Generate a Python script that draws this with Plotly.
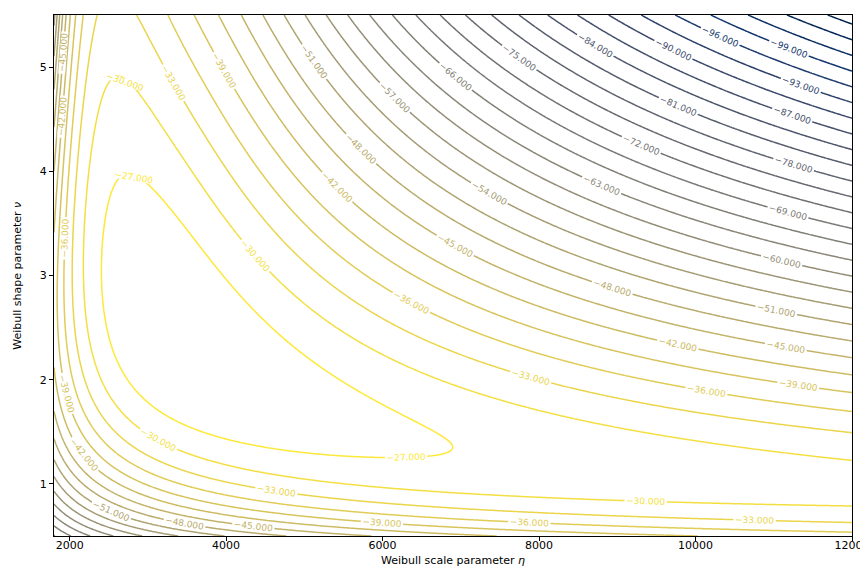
import numpy as np
import plotly.graph_objects as go

# Inspection data
survived_times = [880, 2260]            # units still working when inspected (right-censored)
survived_counts = [74, 11]
failed_by_times = [185, 1080, 2465, 4755]   # units found failed at inspection (left-censored)
failed_by_counts = [1, 2, 4, 5]

# Axes and contour levels
eta_range = [1800, 12000]
nu_range = [0.5, 5.5]
x_tick_vals = [2000, 4000, 6000, 8000, 10000, 12000]
x_tick_text = ['2000', '4000', '6000', '8000', '10000', '12000']
y_tick_vals = [1, 2, 3, 4, 5]
level_start, level_end, level_step = -111, -27, 3

eta = np.linspace(eta_range[0], eta_range[1], 400)
nu = np.linspace(nu_range[0], nu_range[1], 400)
E, N = np.meshgrid(eta, nu)

# Weibull log-likelihood of the inspection data
loglik = np.zeros_like(E)
for t, c in zip(survived_times, survived_counts):
    loglik -= c * (t / E) ** N
for t, c in zip(failed_by_times, failed_by_counts):
    loglik += c * np.log(-np.expm1(-(t / E) ** N))

fig = go.Figure()
fig.add_trace(go.Contour(
    x=eta, y=nu, z=loglik,
    contours=dict(start=level_start, end=level_end, size=level_step, coloring='lines',
                  showlabels=True, labelformat='.3f',
                  labelfont=dict(size=9, family='DejaVu Sans')),
    colorscale='Cividis', zmin=-108, zmax=-27, showscale=False,
    line=dict(width=1.5), hoverinfo='skip'))

fig.add_annotation(text='Weibull scale parameter <i>η</i>', x=0.5, y=-0.047, xref='paper', yref='paper',
                   xanchor='center', yanchor='middle', showarrow=False, borderpad=0, font=dict(size=11))
fig.add_annotation(text='Weibull shape parameter <i>ν</i>', x=-0.046, y=0.5, xref='paper', yref='paper',
                   xanchor='center', yanchor='middle', textangle=-90, showarrow=False, borderpad=0, font=dict(size=11))

fig.update_layout(width=868, height=567, margin=dict(l=46, r=19, t=6, b=39),
                  plot_bgcolor='white', paper_bgcolor='white',
                  font=dict(family='DejaVu Sans', size=11, color='black'))
fig.update_xaxes(range=eta_range, tickvals=x_tick_vals, ticktext=x_tick_text,
                 ticks='outside', ticklen=4, tickcolor='black', ticklabelstandoff=-5,
                 showline=True, mirror=True, linecolor='black', linewidth=1, showgrid=False, zeroline=False)
fig.update_yaxes(range=nu_range, tickvals=y_tick_vals, ticks='outside', ticklen=4, tickcolor='black',
                 showline=True, mirror=True, linecolor='black', linewidth=1, showgrid=False, zeroline=False)
fig.write_html("out.html")
